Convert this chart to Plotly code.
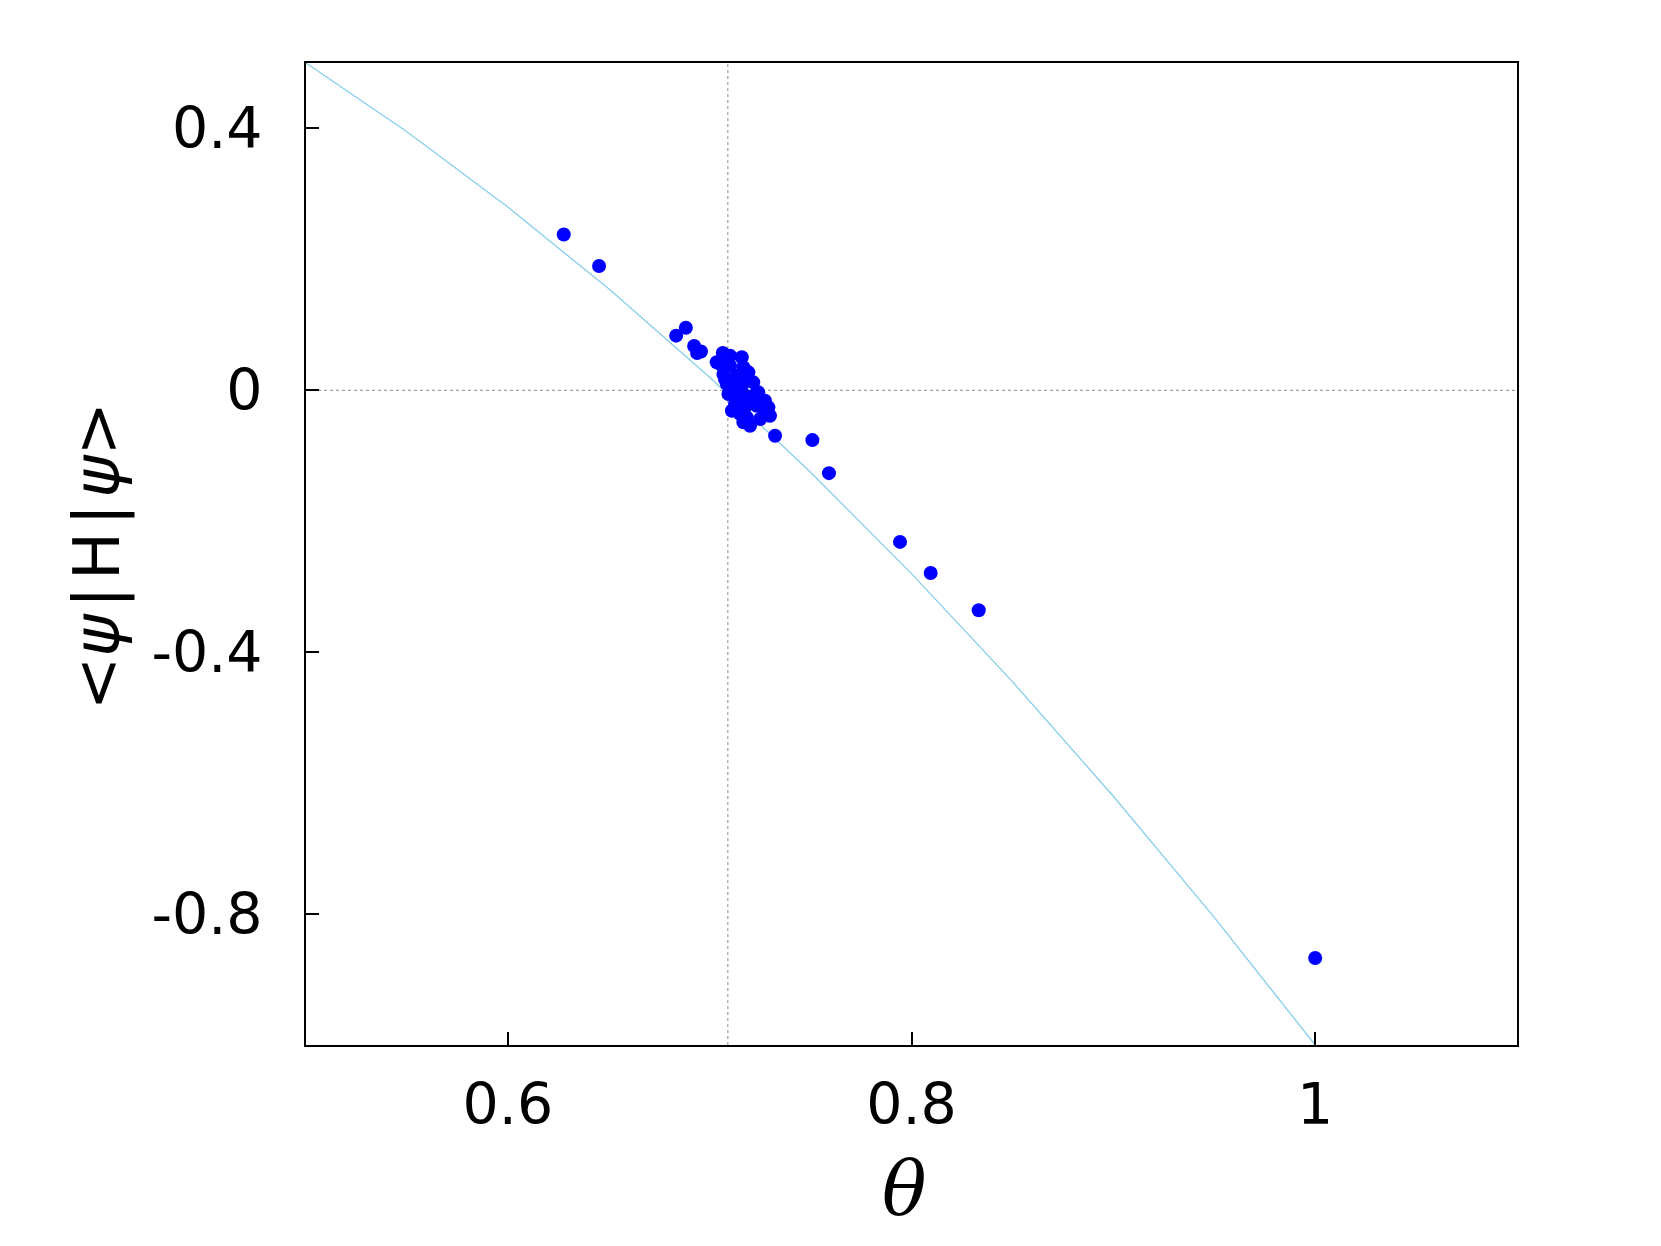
import plotly.graph_objects as go

# reference curve
curve_theta = [0.50, 0.55, 0.60, 0.65, 0.70, 0.75, 0.80, 0.85, 0.90, 0.95, 1.00]
curve_energy = [0.50, 0.395, 0.28, 0.155, 0.02, -0.125, -0.28, -0.445, -0.62, -0.805, -1.00]

# sampled states (blue points)
theta = [
    0.6277, 0.6452, 0.6834, 0.6882, 0.6923, 0.6957, 0.6938,
    0.7065, 0.7159, 0.7052, 0.7101, 0.7167, 0.7068, 0.7134, 0.7192,
    0.7085, 0.7159, 0.7216, 0.7093, 0.7167, 0.7241, 0.7126, 0.7200,
    0.7274, 0.7151, 0.7274, 0.7291, 0.7200, 0.7250, 0.7117, 0.7233,
    0.7184, 0.7035, 0.7101, 0.7126, 0.7184, 0.7142, 0.7216, 0.7175,
    0.7167, 0.7299, 0.7076, 0.7110,
    0.7324, 0.7509, 0.7591, 0.7943, 0.8095, 0.8333, 1.0000,
]
energy = [
    0.238, 0.190, 0.0835, 0.0957, 0.0678, 0.0593, 0.057,
    0.057, 0.0505, 0.0402, 0.0376, 0.0352, 0.0249, 0.0223, 0.0275,
    0.0096, 0.007, 0.0122, -0.0057, -0.0057, -0.0031, -0.021, -0.0183,
    -0.0159, -0.0362, -0.0312, -0.026, -0.0541, -0.0439, 0.002, -0.0235,
    -0.0413, 0.0428, 0.0529, 0.0122, 0.0173, -0.0107, -0.0083, -0.026,
    -0.0489, -0.0388, 0.0173, -0.0312,
    -0.0694, -0.076, -0.1265, -0.2315, -0.279, -0.336, -0.867,
]

theta_ref = 0.709
energy_ref = 0.0

fig = go.Figure()
fig.add_trace(go.Scatter(
    x=curve_theta, y=curve_energy, mode="lines",
    line=dict(color="#87ceeb", width=1.3), hoverinfo="skip",
))
fig.add_trace(go.Scatter(
    x=theta, y=energy, mode="markers",
    marker=dict(color="#0000ff", size=14, symbol="circle", line=dict(width=0)),
))

fig.add_hline(y=energy_ref, line=dict(color="#a0a0a0", width=1.2, dash="3px,3px"), layer="below")
fig.add_vline(x=theta_ref, line=dict(color="#a0a0a0", width=1.2, dash="3px,3px"), layer="below")

tick_font = dict(family="DejaVu Sans", size=57, color="black")
axis_common = dict(
    showline=True, linecolor="black", linewidth=2, mirror=True,
    ticks="inside", ticklen=13, tickwidth=1.5, tickcolor="black",
    showgrid=False, zeroline=False, tickfont=tick_font,
)

fig.update_xaxes(
    range=[0.5, 1.1], tickvals=[0.6, 0.8, 1.0], ticktext=["0.6", "0.8", "1"],
    ticklabelstandoff=9, **axis_common,
)
fig.update_yaxes(
    range=[-1.0, 0.5], tickvals=[0.4, 0.0, -0.4, -0.8], ticktext=["0.4", "0", "-0.4", "-0.8"],
    ticklabelstandoff=30, **axis_common,
)

# axis titles
fig.add_annotation(
    text="<i>θ</i>", xref="paper", yref="paper", x=0.494, y=-0.146,
    xanchor="center", yanchor="middle", showarrow=False,
    font=dict(family="DejaVu Serif", size=74, color="black"),
)
fig.add_annotation(
    text="&lt;<i>ψ</i>\u200a|\u200aH\u200a|\u200a<i>ψ</i>&gt;",
    xref="paper", yref="paper", x=-0.1715, y=0.498, textangle=-90,
    xanchor="center", yanchor="middle", showarrow=False,
    font=dict(family="DejaVu Sans", size=64, color="black"),
)

fig.update_layout(
    width=1661, height=1246,
    margin=dict(l=298, r=152, t=55, b=209),
    paper_bgcolor="white", plot_bgcolor="white",
    showlegend=False,
)

fig.write_html("out.html")
